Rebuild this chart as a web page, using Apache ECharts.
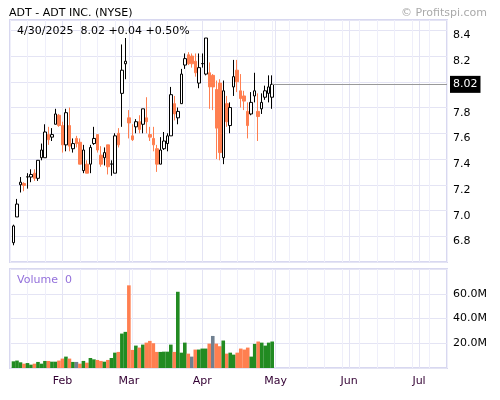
<!DOCTYPE html>
<html>
<head>
<meta charset="utf-8">
<script src="https://cdn.jsdelivr.net/npm/echarts@6/dist/echarts.min.js"></script>
<style>html,body{margin:0;background:#fff}#chart{width:500px;height:400px}</style>
</head>
<body>
<div id="chart"></div>
<script>
var dates = [
  '2025-01-13','2025-01-14','2025-01-15','2025-01-16','2025-01-17','2025-01-21','2025-01-22','2025-01-23','2025-01-24',
  '2025-01-27','2025-01-28','2025-01-29','2025-01-30','2025-01-31',
  '2025-02-03','2025-02-04','2025-02-05','2025-02-06','2025-02-07','2025-02-10','2025-02-11','2025-02-12','2025-02-13','2025-02-14',
  '2025-02-18','2025-02-19','2025-02-20','2025-02-21','2025-02-24','2025-02-25','2025-02-26','2025-02-27','2025-02-28',
  '2025-03-03','2025-03-04','2025-03-05','2025-03-06','2025-03-07','2025-03-10','2025-03-11','2025-03-12','2025-03-13','2025-03-14',
  '2025-03-17','2025-03-18','2025-03-19','2025-03-20','2025-03-21','2025-03-24','2025-03-25','2025-03-26','2025-03-27','2025-03-28','2025-03-31',
  '2025-04-01','2025-04-02','2025-04-03','2025-04-04','2025-04-07','2025-04-08','2025-04-09','2025-04-10','2025-04-11',
  '2025-04-14','2025-04-15','2025-04-16','2025-04-17','2025-04-21','2025-04-22','2025-04-23','2025-04-24','2025-04-25',
  '2025-04-28','2025-04-29','2025-04-30'
];
// open, close, low, high
var ohlc = [
  [6.79,6.92,6.77,6.93],[6.99,7.09,6.99,7.13],[7.24,7.26,7.18,7.30],[7.25,7.235,7.19,7.26],[7.30,7.302,7.21,7.33],
  [7.30,7.32,7.26,7.36],[7.33,7.29,7.27,7.36],[7.29,7.43,7.27,7.43],[7.45,7.51,7.43,7.56],[7.45,7.65,7.45,7.71],
  [7.63,7.59,7.55,7.69],[7.61,7.63,7.58,7.68],[7.71,7.79,7.71,7.83],[7.78,7.70,7.69,7.79],[7.70,7.55,7.49,7.73],
  [7.55,7.80,7.50,7.83],[7.70,7.54,7.50,7.84],[7.52,7.56,7.49,7.60],[7.60,7.56,7.53,7.62],[7.57,7.40,7.40,7.60],
  [7.35,7.51,7.33,7.55],[7.40,7.33,7.33,7.43],[7.40,7.53,7.33,7.55],[7.56,7.60,7.55,7.69],[7.63,7.51,7.49,7.63],
  [7.47,7.40,7.38,7.54],[7.45,7.49,7.39,7.53],[7.55,7.38,7.32,7.55],[7.40,7.402,7.31,7.43],[7.33,7.62,7.33,7.64],
  [7.64,7.55,7.53,7.68],[7.95,8.13,7.69,8.33],[8.18,8.20,8.06,8.38],[7.76,7.72,7.60,7.82],[7.62,7.59,7.58,7.71],
  [7.69,7.73,7.64,7.75],[7.73,7.67,7.64,7.78],[7.71,7.83,7.64,7.83],[7.76,7.73,7.64,7.92],[7.63,7.61,7.58,7.69],
  [7.60,7.55,7.50,7.69],[7.52,7.40,7.34,7.55],[7.40,7.51,7.40,7.61],[7.52,7.58,7.51,7.65],[7.56,7.62,7.50,7.64],
  [7.62,7.94,7.62,8.00],[7.87,7.79,7.74,7.93],[7.76,7.81,7.71,7.84],[7.87,8.10,7.87,8.14],[8.17,8.22,8.14,8.26],
  [8.25,8.18,8.17,8.27],[8.24,8.18,8.15,8.26],[8.20,8.11,8.08,8.26],[8.03,8.15,7.99,8.26],[8.18,8.182,8.15,8.26],
  [8.10,8.38,8.09,8.38],[8.11,8.00,7.83,8.19],[8.09,8.00,7.82,8.10],[7.98,7.68,7.44,8.05],[8.03,7.49,7.43,8.06],
  [7.45,7.97,7.40,8.05],[7.87,7.73,7.69,7.93],[7.70,7.84,7.64,7.88],[8.00,8.08,7.93,8.21],[8.13,8.04,7.96,8.21],
  [7.97,7.91,7.84,8.10],[7.93,7.89,7.82,7.97],[7.81,7.70,7.60,7.88],[7.79,7.88,7.78,7.96],[7.93,7.97,7.88,8.11],
  [7.81,7.77,7.58,7.95],[7.83,7.88,7.79,7.95],[7.92,7.97,7.90,8.01],[7.95,8.00,7.88,8.09],[7.92,8.02,7.83,8.09]
];
// volume in millions
var volume = [
  5.4,6,4.6,3.5,4,2.7,3.5,4.9,3.5,5.7,
  5.7,5.1,5.1,6,7.6,9.2,7.6,4.9,4.9,3.5,
  5.7,4.3,8.1,7,6.5,5.7,5.1,6.5,8.1,12.4,
  13,27.8,29.2,66.8,14.6,18.1,16.5,18.9,20.5,21.9,
  20,13,13,13.2,13.2,18.9,13,61.6,12.4,20.5,
  11.6,9.2,14.9,14.9,15.7,15.7,19.7,25.9,19.7,17.6,
  22.2,11.6,12.4,10.8,12.4,15.7,14.9,16.5,9.2,19.5,
  21.4,20.5,18.1,20.5,21.4
];
var priceTicks = [6.8, 7.0, 7.2, 7.4, 7.6, 7.8, 8.0, 8.2, 8.4];
// month starts as trading-day index (future months counted in trading days)
var monthNames = ['Feb', 'Mar', 'Apr', 'May', 'Jun', 'Jul'];
var monthIdx = [14, 33, 54, 75, 96, 116];
var lastLabel = '4/30/2025  8.02 +0.04 +0.50%';

var xMin = -1, xMax = 124;
var gridColor = '#e4e4f4', weekColor = '#efeffa', borderColor = '#d8d8f0';
var font = 'DejaVu Sans';

var candleData = ohlc.map(function (r, i) { return [i].concat(r); });
var volData = volume.map(function (v, i) {
  var c = i > 0 ? ohlc[i - 1][1] : ohlc[i][0];
  var col = ohlc[i][1] > c ? '#228b22' : (ohlc[i][1] < c ? '#ff7f50' : '#708090');
  return { value: [i, v], itemStyle: { color: col } };
});
var last = ohlc[ohlc.length - 1][1];

function monthAxis(idx, show) {
  return {
    type: 'value', gridIndex: idx, min: xMin, max: xMax, position: 'bottom',
    axisLine: { show: false },
    axisTick: { show: false, customValues: monthIdx },
    axisLabel: { show: true, color: '#330033', fontFamily: font, fontSize: 11, customValues: monthIdx,
      formatter: function (v) { return show ? monthNames[monthIdx.indexOf(v)] : ''; } },
    splitLine: { show: true, lineStyle: { color: gridColor } }
  };
}
function weekAxis(idx) {
  return {
    type: 'value', gridIndex: idx, min: xMin, max: xMax, interval: 5, position: 'bottom',
    axisLine: { show: false }, axisTick: { show: false }, axisLabel: { show: false },
    splitLine: { show: true, lineStyle: { color: weekColor } }
  };
}

var chart = echarts.init(document.getElementById('chart'));
chart.setOption({
  animation: false,
  title: [
    { text: 'ADT - ADT INC. (NYSE)', left: 4, top: 3, textStyle: { fontSize: 11, fontWeight: 'normal', color: '#000', fontFamily: font } },
    { text: '© Profitspi.com', right: 8, top: 3, textStyle: { fontSize: 11, fontWeight: 'normal', color: '#aaa', fontFamily: font } },
    { text: lastLabel, left: 12, top: 21, textStyle: { fontSize: 11, fontWeight: 'normal', color: '#000', fontFamily: font } },
    { text: 'Volume  0', left: 12, top: 270, textStyle: { fontSize: 11, fontWeight: 'normal', color: '#9370db', fontFamily: font } }
  ],
  grid: [
    { left: 10, right: 53, top: 20, height: 242, show: true, borderColor: borderColor, borderWidth: 2 },
    { left: 10, right: 53, top: 269, height: 99, show: true, borderColor: borderColor, borderWidth: 2 }
  ],
  xAxis: [weekAxis(0), weekAxis(1), monthAxis(0, false), monthAxis(1, true)],
  yAxis: [
    { type: 'value', gridIndex: 0, position: 'right', min: 6.64, max: 8.52, interval: 0.2,
      axisLine: { show: false }, axisTick: { show: false },
      axisLabel: { color: '#000', fontFamily: font, fontSize: 11, margin: 6,
        customValues: priceTicks,
        formatter: function (v) { return v.toFixed(1); } },
      splitLine: { lineStyle: { color: gridColor } } },
    { type: 'value', gridIndex: 1, position: 'right', min: 0, max: 80, interval: 20,
      axisLine: { show: false }, axisTick: { show: false },
      axisLabel: { color: '#000', fontFamily: font, fontSize: 11, margin: 6,
        formatter: function (v) { return (v === 0 || v === 80) ? '' : v.toFixed(1) + 'M'; } },
      splitLine: { lineStyle: { color: gridColor } } }
  ],
  series: [
    { type: 'candlestick', xAxisIndex: 2, yAxisIndex: 0, data: candleData, barWidth: 3,
      encode: { x: 0, y: [1, 2, 3, 4] },
      itemStyle: { color: '#ffffff', color0: '#ff7f50', borderColor: '#000', borderColor0: '#ff7f50', borderWidth: 1 },
      markLine: { symbol: 'none', silent: true,
        lineStyle: { color: '#999', type: 'solid', width: 1 },
        label: { show: true, position: 'end', formatter: last.toFixed(2), backgroundColor: '#000', color: '#fff',
          fontFamily: font, fontSize: 11, padding: [3, 3], distance: 3 },
        data: [[{ coord: [ohlc.length - 1, last] }, { coord: [xMax, last] }]] } },
    { type: 'bar', xAxisIndex: 3, yAxisIndex: 1, data: volData, barWidth: 3.6 }
  ]
});
</script>
</body>
</html>
